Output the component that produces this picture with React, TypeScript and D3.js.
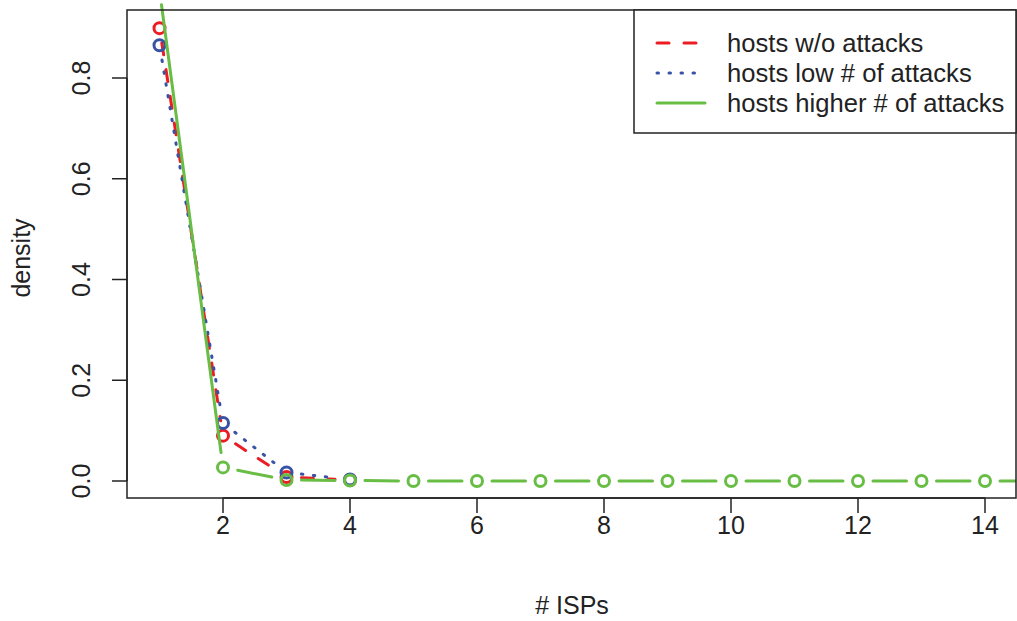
import React from 'react';
import * as d3 from 'd3';

// ISP counts on the x axis
const isps = [1, 2, 3, 4, 5, 6, 7, 8, 9, 10, 11, 12, 13, 14, 15];

// density per group
const noAttacks = [0.899, 0.09, 0.008, 0.002];
const lowAttacks = [0.865, 0.115, 0.017, 0.003];
const highAttacks = [0.975, 0.027, 0.002, 0.001, 0, 0, 0, 0, 0, 0, 0, 0, 0, 0, 0];

const xTicks = [2, 4, 6, 8, 10, 12, 14];
const yTicks = [0, 0.2, 0.4, 0.6, 0.8];

const series = [
  { name: 'hosts w/o attacks', values: noAttacks, color: '#EC1C24', dash: '12 15' },
  { name: 'hosts low # of attacks', values: lowAttacks, color: '#3953A4', dash: '1.5 10.5' },
  { name: 'hosts higher # of attacks', values: highAttacks, color: '#68BD45', dash: null },
];

const W = 1017;
const H = 621;
const box = { left: 127, right: 1016, top: 10, bottom: 498 };
const FONT = 'Liberation Sans, Arial, Helvetica, sans-serif';
const GAP = 15;

const App = () => {
  const x = d3.scaleLinear().domain([1, 14]).range([159.5, 985]);
  const y = d3.scaleLinear().domain([0, 0.8]).range([481, 78]);

  // R "type = b": segments stop short of each point
  const segments = (vals: number[]) => {
    const out: { x1: number; y1: number; x2: number; y2: number }[] = [];
    for (let i = 0; i < vals.length - 1; i++) {
      const ax = x(isps[i]), ay = y(vals[i]);
      const bx = x(isps[i + 1]), by = y(vals[i + 1]);
      const len = Math.hypot(bx - ax, by - ay);
      if (len <= 2 * GAP) continue;
      const ux = (bx - ax) / len, uy = (by - ay) / len;
      out.push({ x1: ax + ux * GAP, y1: ay + uy * GAP, x2: bx - ux * GAP, y2: by - uy * GAP });
    }
    return out;
  };

  const legendRows = [43, 73, 103];

  return (
    <div style={{ position: 'absolute', left: 0, top: 0 }}>
      <svg width={W} height={H} style={{ display: 'block', background: '#fff' }}>
        <defs>
          <clipPath id="plotClip">
            <rect x={box.left} y={-50} width={box.right - box.left} height={box.bottom + 50} />
          </clipPath>
        </defs>

        <g clipPath="url(#plotClip)">
          {series.map(s => (
            <g key={s.name}>
              {segments(s.values).map((g, i) => (
                <line key={i} {...g} stroke={s.color} strokeWidth={3}
                  strokeDasharray={s.dash ?? undefined} strokeLinecap="round" />
              ))}
              {s.values.map((v, i) => (
                <circle key={i} cx={x(isps[i])} cy={y(v)} r={5.5}
                  fill="none" stroke={s.color} strokeWidth={3} />
              ))}
            </g>
          ))}
        </g>

        <rect x={box.left} y={box.top} width={box.right - box.left} height={box.bottom - box.top}
          fill="none" stroke="#222" strokeWidth={1.5} />

        {/* x axis */}
        <line x1={x(2)} x2={x(14)} y1={box.bottom} y2={box.bottom} stroke="#222" strokeWidth={1.5} />
        {xTicks.map(t => (
          <g key={t}>
            <line x1={x(t)} x2={x(t)} y1={box.bottom} y2={box.bottom + 15} stroke="#222" strokeWidth={1.5} />
            <text x={x(t)} y={534} textAnchor="middle" fontFamily={FONT} fontSize={25} fill="#222">{t}</text>
          </g>
        ))}
        <text x={572} y={614} textAnchor="middle" fontFamily={FONT} fontSize={25} fill="#222"># ISPs</text>

        {/* y axis */}
        <line x1={box.left} x2={box.left} y1={y(0)} y2={y(0.8)} stroke="#222" strokeWidth={1.5} />
        {yTicks.map(t => (
          <g key={t}>
            <line x1={box.left - 15} x2={box.left} y1={y(t)} y2={y(t)} stroke="#222" strokeWidth={1.5} />
            <text transform={`translate(90,${y(t)}) rotate(-90)`} textAnchor="middle" fontFamily={FONT}
              fontSize={25} fill="#222">{d3.format('.1f')(t)}</text>
          </g>
        ))}
        <text transform={`translate(30,258) rotate(-90)`} textAnchor="middle" fontFamily={FONT}
          fontSize={25} fill="#222">density</text>

        {/* legend */}
        <rect x={634} y={box.top} width={box.right - 634} height={123} fill="#fff" stroke="#222" strokeWidth={1.5} />
        {series.map((s, i) => (
          <g key={s.name}>
            <line x1={657} x2={705} y1={legendRows[i]} y2={legendRows[i]} stroke={s.color} strokeWidth={3}
              strokeDasharray={s.dash ?? undefined} strokeLinecap="round" />
            <text x={727} y={legendRows[i] + 9} fontFamily={FONT} fontSize={25.6} fill="#222">{s.name}</text>
          </g>
        ))}
      </svg>
    </div>
  );
};

export default App;
